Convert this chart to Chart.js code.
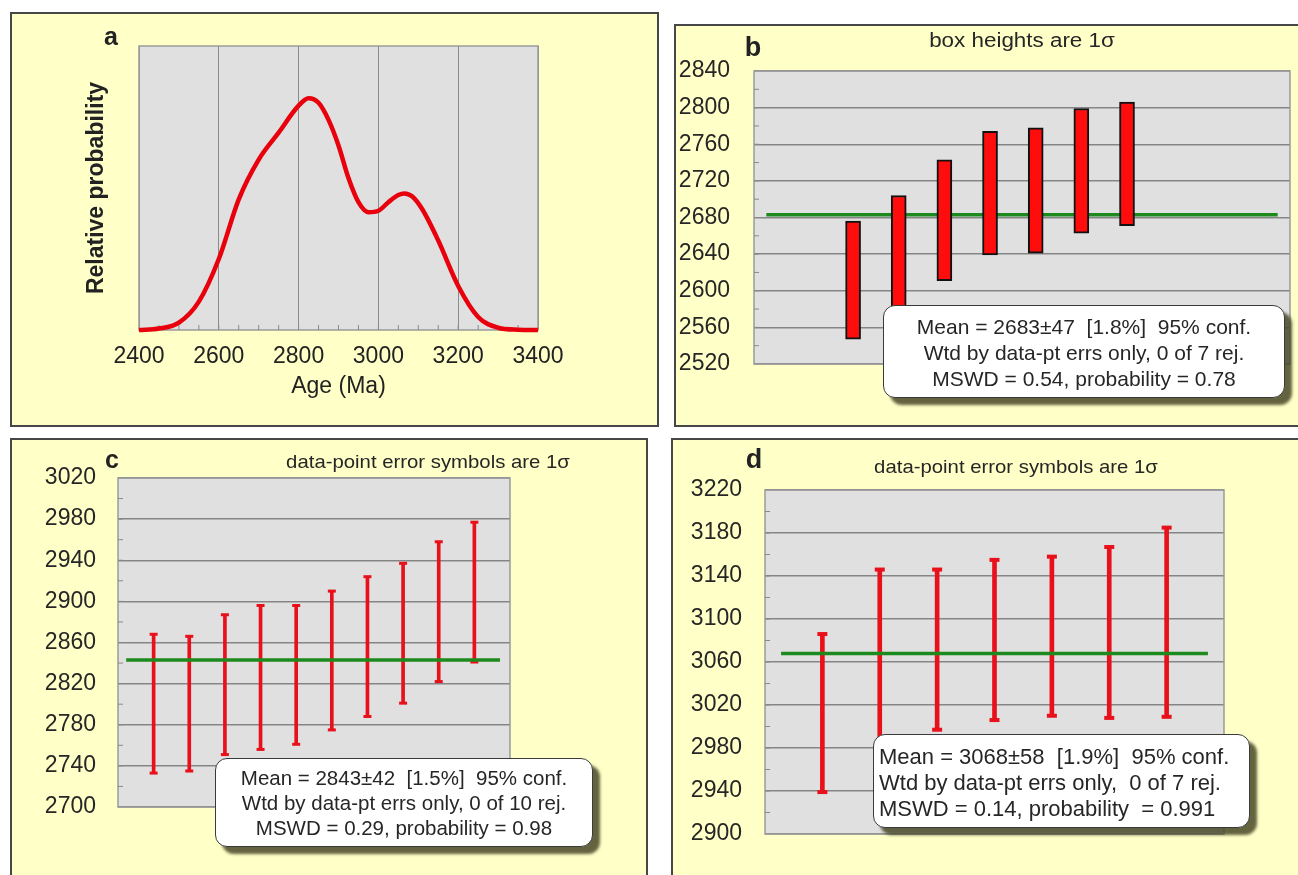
<!DOCTYPE html>
<html>
<head>
<meta charset="utf-8">
<script src="https://cdn.jsdelivr.net/npm/chart.js@4/dist/chart.umd.min.js"></script>
<style>
body { margin: 0; width: 1298px; height: 875px; overflow: hidden; position: relative; background: #fff; font-family: "Liberation Sans", Arial, sans-serif; color: #222; }
.panel { position: absolute; background: #ffffc8; border: 2px solid #474747; box-sizing: border-box; }
canvas { position: absolute; }
.lbl { position: absolute; font-weight: bold; transform: translate(-50%, -50%); line-height: 1; }
.ttl { position: absolute; white-space: nowrap; line-height: 1; color: #262626; }
.note { position: absolute; background: #fff; border: 1.5px solid #3a3a3a; border-radius: 12px; box-shadow: 7px 7px 3px rgba(72, 72, 40, 0.85); box-sizing: border-box; white-space: pre; color: #262626; }
</style>
</head>
<body>
<div class="panel" style="left:10px;top:12px;width:649px;height:415px"></div>
<div class="panel" style="left:674px;top:24px;width:630px;height:403px"></div>
<div class="panel" style="left:10px;top:438px;width:638px;height:450px"></div>
<div class="panel" style="left:671px;top:438px;width:640px;height:450px"></div>

<canvas id="ca" width="647" height="415" style="left:10px;top:12px"></canvas>
<canvas id="cb" width="624" height="403" style="left:674px;top:24px"></canvas>
<canvas id="cc" width="638" height="437" style="left:10px;top:438px"></canvas>
<canvas id="cd" width="627" height="437" style="left:671px;top:438px"></canvas>

<div class="lbl" style="left:111px;top:36px;font-size:25px">a</div>
<div class="lbl" style="left:753px;top:47px;font-size:27px">b</div>
<div class="lbl" style="left:112px;top:459px;font-size:25px">c</div>
<div class="lbl" style="left:754px;top:459px;font-size:27px">d</div>

<div class="ttl" style="left:1022px;top:40px;font-size:20px;transform:translate(-50%,-50%) scaleX(1.12)">box heights are 1σ</div>
<div class="ttl" style="left:428px;top:461px;font-size:19px;transform:translate(-50%,-50%) scaleX(1.07)">data-point error symbols are 1σ</div>
<div class="ttl" style="left:1016px;top:466px;font-size:19px;transform:translate(-50%,-50%) scaleX(1.07)">data-point error symbols are 1σ</div>

<div class="note" style="left:883px;top:305px;width:402px;height:93px;font-size:21px;line-height:26px;padding-top:8px;text-align:center">Mean = 2683±47  [1.8%]  95% conf.
Wtd by data-pt errs only, 0 of 7 rej.
MSWD = 0.54, probability = 0.78</div>
<div class="note" style="left:215px;top:758px;width:378px;height:89px;font-size:20.5px;line-height:25px;padding-top:6px;text-align:center">Mean = 2843±42  [1.5%]  95% conf.
Wtd by data-pt errs only, 0 of 10 rej.
MSWD = 0.29, probability = 0.98</div>
<div class="note" style="left:873px;top:734px;width:377px;height:94px;font-size:22px;line-height:26px;padding-top:9px;padding-left:5px">Mean = 3068±58  [1.9%]  95% conf.
Wtd by data-pt errs only,  0 of 7 rej.
MSWD = 0.14, probability  = 0.991</div>

<script>
// panel a: probability density of ages
const ageA = [2400, 2450, 2500, 2550, 2600, 2650, 2700, 2750, 2800, 2825, 2850, 2875, 2900, 2925, 2950, 2975, 3000, 3025, 3050, 3065, 3085, 3110, 3150, 3200, 3250, 3300, 3350, 3400];
const probA = [0, 0.005, 0.026, 0.10, 0.25, 0.46, 0.60, 0.695, 0.79, 0.816, 0.80, 0.74, 0.65, 0.535, 0.45, 0.415, 0.42, 0.45, 0.475, 0.481, 0.47, 0.425, 0.315, 0.155, 0.046, 0.008, 0.001, 0];
const ageTicks = [2400, 3400, 200];

// panel b: boxes (1 sigma)
const bLow = [2547, 2570, 2611, 2639, 2641, 2663, 2671];
const bHigh = [2676, 2704, 2743, 2774, 2778, 2799, 2806];
const bMean = 2683;
const bRange = [2520, 2840, 40];

// panel c: error bars (1 sigma)
const cLow = [2733, 2735, 2751, 2756, 2761, 2775, 2788, 2801, 2822, 2841];
const cHigh = [2868, 2866, 2887, 2896, 2896, 2910, 2924, 2937, 2958, 2977];
const cMean = 2843;
const cRange = [2700, 3020, 40];

// panel d: error bars (1 sigma)
const dLow = [2939, 2985, 2997, 3006, 3010, 3008, 3009];
const dHigh = [3086, 3146, 3146, 3155, 3158, 3167, 3185];
const dMean = 3068;
const dRange = [2900, 3220, 40];

const FONT = '"Liberation Sans", Arial, sans-serif';
Chart.defaults.font.family = FONT;
Chart.defaults.color = '#222';

// grey plot area, frame and small minor ticks
const plotFrame = {
  id: 'plotFrame',
  beforeDraw(chart) {
    const { ctx, chartArea: a } = chart;
    ctx.save();
    ctx.fillStyle = '#e0e0e0';
    ctx.fillRect(a.left, a.top, a.width, a.height);
    ctx.restore();
  },
  beforeDatasetsDraw(chart, args, o) {
    const { ctx, chartArea: a } = chart;
    ctx.save();
    ctx.strokeStyle = '#9a9a9a';
    ctx.lineWidth = 1.5;
    ctx.strokeRect(a.left, a.top, a.width, a.height);
    if (o.axis) {
      const sc = chart.scales[o.axis];
      ctx.strokeStyle = '#8a8a8a';
      ctx.lineWidth = 1;
      ctx.beginPath();
      for (let v = sc.min + o.step; v < sc.max; v += o.step) {
        const p = sc.getPixelForValue(v);
        if (o.axis === 'x') { ctx.moveTo(p, a.bottom); ctx.lineTo(p, a.bottom - 5); }
        else { ctx.moveTo(a.left, p); ctx.lineTo(a.left + 5, p); }
      }
      ctx.stroke();
    }
    ctx.restore();
  }
};
Chart.register(plotFrame);

const base = {
  responsive: false,
  animation: false,
  events: [],
};
const plain = v => String(v);

new Chart(document.getElementById('ca'), {
  type: 'line',
  data: {
    datasets: [{
      data: ageA.map((x, i) => ({ x: x, y: probA[i] })),
      borderColor: '#e8000c',
      borderWidth: 4.5,
      pointRadius: 0,
      cubicInterpolationMode: 'monotone',
      clip: 8
    }]
  },
  options: {
    ...base,
    layout: { padding: { left: 73, top: 34, right: 119, bottom: 0 } },
    plugins: { legend: { display: false }, tooltip: { enabled: false }, plotFrame: { axis: 'x', step: 50 } },
    scales: {
      x: {
        type: 'linear', min: ageTicks[0], max: ageTicks[1],
        ticks: { stepSize: ageTicks[2], font: { size: 23 }, color: '#222', padding: 13, callback: plain },
        grid: { color: '#8c8c8c', lineWidth: 1, drawTicks: false },
        border: { display: false },
        title: { display: true, text: 'Age (Ma)', font: { size: 23 }, color: '#222', padding: { top: 0, bottom: 27 } },
        afterFit(s) { s.height = 97; }
      },
      y: {
        min: 0, max: 1,
        ticks: { display: false },
        grid: { display: false, drawTicks: false },
        border: { display: false },
        title: { display: true, text: 'Relative probability', font: { size: 23, weight: 'bold' }, color: '#222', padding: { top: 0, bottom: 0 } },
        afterFit(s) { s.width = 56; }
      }
    }
  }
});

function yAxis(r, width, pad) {
  return {
    min: r[0], max: r[1],
    ticks: { stepSize: r[2], font: { size: 23 }, color: '#262626', padding: pad, callback: plain },
    grid: { color: '#858585', lineWidth: 1.5, drawTicks: false },
    border: { display: false },
    afterFit(s) { s.width = width; }
  };
}

function meanLine(y, x0, x1, order) {
  return {
    type: 'line',
    data: [{ x: x0, y: y }, { x: x1, y: y }],
    borderColor: '#1d8a1d',
    borderWidth: 3.5,
    pointRadius: 0,
    order: order
  };
}

function caps(low, high) {
  return low.map((v, i) => ({ x: i + 1, y: v })).concat(high.map((v, i) => ({ x: i + 1, y: v })));
}

new Chart(document.getElementById('cb'), {
  type: 'bar',
  data: {
    datasets: [
      {
        type: 'bar',
        data: bLow.map((v, i) => ({ x: i + 1, y: [v, bHigh[i]] })),
        backgroundColor: '#ff0c0c',
        borderColor: '#111',
        borderWidth: 2,
        borderSkipped: false,
        barThickness: 15,
        order: 0
      },
      meanLine(bMean, -0.9, 10.3, 1)
    ]
  },
  options: {
    ...base,
    layout: { padding: { left: 0, top: 47, right: 8, bottom: 63 } },
    plugins: { legend: { display: false }, tooltip: { enabled: false }, plotFrame: { axis: 'y', step: 20 } },
    scales: {
      x: { type: 'linear', min: -1.17, max: 10.57, offset: false, display: false },
      y: yAxis(bRange, 80, 24)
    }
  }
});

function errChart(id, low, high, mean, range, xmax, line, thick, pad, yw, lay) {
  return new Chart(document.getElementById(id), {
    type: 'bar',
    data: {
      datasets: [
        {
          type: 'bar',
          data: low.map((v, i) => ({ x: i + 1, y: [v, high[i]] })),
          backgroundColor: '#e8101a',
          borderWidth: 0,
          barThickness: thick,
          order: 2
        },
        {
          type: 'line',
          data: caps(low, high),
          showLine: false,
          pointStyle: 'line',
          pointRadius: thick + 1,
          pointBorderWidth: thick,
          pointBorderColor: '#e8101a',
          order: 1
        },
        meanLine(mean, line[0], line[1], 0)
      ]
    },
    options: {
      ...base,
      layout: { padding: lay },
      plugins: { legend: { display: false }, tooltip: { enabled: false }, plotFrame: { axis: 'y', step: 20 } },
      scales: {
        x: { type: 'linear', min: 0, max: xmax, offset: false, display: false },
        y: yAxis(range, yw, pad)
      }
    }
  });
}

errChart('cc', cLow, cHigh, cMean, cRange, 11, [0.23, 10.72], 3, 22, 108, { left: 0, top: 40, right: 138, bottom: 68 });
errChart('cd', dLow, dHigh, dMean, dRange, 8, [0.28, 7.72], 4, 23, 94, { left: 0, top: 52, right: 74, bottom: 41 });
</script>
</body>
</html>
